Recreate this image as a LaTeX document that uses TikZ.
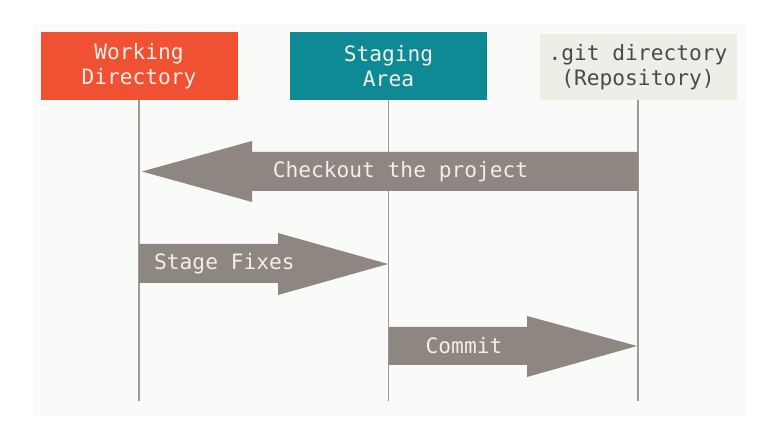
\documentclass[tikz,border=0pt]{standalone}
\usepackage{fontspec}
\setmonofont{DejaVu Sans Mono}
\definecolor{bgpanel}{HTML}{FAFAF8}
\definecolor{gitorange}{HTML}{F05133}
\definecolor{gitteal}{HTML}{0E8A94}
\definecolor{gitbeige}{HTML}{EEEEE6}
\definecolor{arrowgray}{HTML}{8D8681}
\definecolor{linegray}{HTML}{9A9A9A}
\definecolor{lighttext}{HTML}{F2EEE8}
\definecolor{darktext}{HTML}{4A4A48}
\begin{document}
\begin{tikzpicture}[x=1pt,y=-1pt,
  areabox/.style={minimum width=197pt,minimum height=68pt,inner sep=0pt,align=center,
    font=\ttfamily\fontsize{21.2}{25}\selectfont},
  lifeline/.style={draw=linegray,line width=1.6pt},
  bigarrow/.style={fill=arrowgray,draw=none},
  arrowlabel/.style={text=lighttext,inner sep=0pt,font=\ttfamily\fontsize{21.2}{25}\selectfont}]
\useasboundingbox (0,0) rectangle (780,443);
\fill[white] (0,0) rectangle (780,443);
\fill[bgpanel] (33,24) rectangle (747,416);
% boxes
\node[areabox,fill=gitorange,text=lighttext] (wd) at (139,66) {Working\\Directory};
\node[areabox,fill=gitteal,text=lighttext] (sa) at (388.5,66) {Staging\\Area};
\node[areabox,fill=gitbeige,text=darktext,minimum height=66pt] (gd) at (638,67) {.git directory\\(Repository)};
% lifelines
\coordinate (wdend) at (wd.south |- 0,401);
\coordinate (saend) at (sa.south |- 0,401);
\coordinate (gdend) at (gd.south |- 0,401);
\draw[lifeline] (wd.south) -- (wdend);
\draw[lifeline] (sa.south) -- (saend);
\draw[lifeline] (gd.south) -- (gdend);
% checkout arrow
\fill[bigarrow] (638,152) -- (252,152) -- (252,141) -- (142,171.5) -- (252,202) -- (252,191) -- (638,191) -- cycle;
\node[arrowlabel] (co) at (400.5,171.5) {Checkout the project};
% stage fixes arrow
\fill[bigarrow] (139,244) -- (278,244) -- (278,233) -- (388,264) -- (278,295) -- (278,283) -- (139,283) -- cycle;
\node[arrowlabel,anchor=west] (sf) at (154,264) {Stage Fixes};
% commit arrow
\fill[bigarrow] (388.5,327) -- (527,327) -- (527,316) -- (637,346) -- (527,377) -- (527,365) -- (388.5,365) -- cycle;
\node[arrowlabel] (cm) at (464,346) {Commit};
\end{tikzpicture}
\end{document}
